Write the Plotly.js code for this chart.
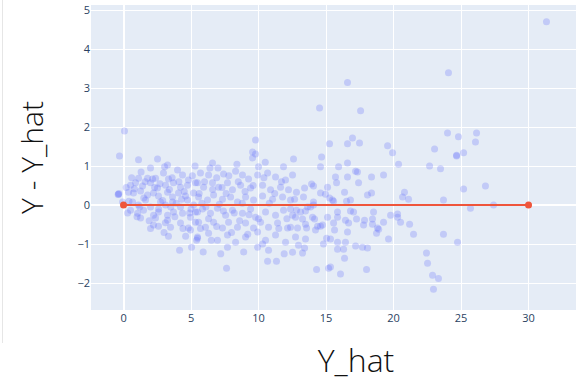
<!DOCTYPE html>
<html><head><meta charset="utf-8">
<script src="https://cdn.plot.ly/plotly-3.0.1.min.js"></script>
<style>
html,body{margin:0;padding:0;overflow:hidden;background:#fff;width:576px;height:384px;position:relative}
#edge{position:absolute;left:2px;top:0;width:1px;height:343px;background:#e6e6e6;z-index:5}
</style></head><body>
<div id="edge"></div>
<div id="chart" style="width:631px;height:384px"></div>
<script>
// Far-right / outlying points
const yhatA  = [31.33,24.07,16.59,17.56,14.52,24.0,24.81,26.15,26.07,25.19,24.67,24.67,23.04,19.56,19.93,15.26,16.59,16.96,17.48,20.37,22.67,23.48,25.19,26.81,20.81,20.67,21.11,23.7,25.7,27.41,20.3,20.52,21.19,21.48,23.7,24.74,22.44,22.52,22.89,23.33,22.96];
const residA = [4.70,3.39,3.14,2.42,2.49,1.85,1.75,1.85,1.62,1.34,1.26,1.28,1.44,1.52,1.34,1.57,1.57,1.72,1.59,1.05,1.0,0.93,0.41,0.49,0.33,0.21,0.15,0.13,-0.08,0.0,-0.23,-0.44,-0.49,-0.75,-0.75,-0.95,-1.23,-1.49,-1.8,-1.88,-2.16];
// Y_hat 15-20
const yhatB  = [15.93,16.59,17.19,17.33,16.59,15.7,15.78,17.41,18.37,19.26, 16.37,18.07,18.37,15.48,15.56,16.52,16.81,15.85,16.81,17.04, 18.52,19.78,15.85,16.44,16.67,17.26,17.85,18.44,19.26,20.3, 15.56,17.78,18.44,18.81,18.9,15.63,16.59,18.74,15.33,15.85, 16.44,19.63,17.19,17.7,18.07,15.85,16.3,16.37,18.0,16.07, 15.33];
const residB = [0.98,1.08,0.87,0.85,0.72,0.72,0.57,0.57,0.72,0.77, 0.33,0.26,0.31,0.13,0.1,0.1,0.13,-0.18,-0.15,-0.18, -0.18,-0.26,-0.31,-0.39,-0.46,-0.36,-0.39,-0.36,-0.44,-0.31, -0.46,-0.51,-0.49,-0.59,-0.62,-0.64,-0.69,-0.72,-0.87,-0.95, -0.95,-0.87,-1.05,-1.08,-1.1,-1.13,-1.13,-1.36,-1.65,-1.77, -1.59];
// Y_hat 12-15
const yhatC  = [12.59,14.67,14.59,15.11,13.41,13.93,14.07,12.81,14.59,14.96, 12.67,13.33,14.07,15.26,12.37,12.81,13.11,13.48,13.63,13.85, 14.07,12.74,13.26,14.0,14.15,15.11,12.37,12.89,13.48,13.56, 14.37,14.59,14.74,14.22,12.74,13.48,15.04,12.96,13.41,14.81, 12.52,13.26,14.3,15.19,11.85];
const residC = [1.18,1.23,0.98,0.46,0.44,0.54,0.49,0.33,0.31,0.28, 0.15,0.21,0.08,0.18,-0.1,-0.13,-0.18,-0.15,-0.05,-0.05, 0.0,-0.31,-0.36,-0.31,-0.36,-0.31,-0.57,-0.59,-0.49,-0.59, -0.54,-0.54,-0.51,-0.64,-0.82,-0.87,-0.85,-1.03,-1.1,-1.0, -1.21,-1.23,-1.65,-1.62,0.98];
// Y_hat 5-12
const yhatD  = [9.78,9.56,9.78,9.56,6.59,10.0, 5.7,6.3,7.41,8.3,8.81,9.26,9.93,10.67,11.26,12.0,12.52, 5.48,5.93,6.59,7.04,7.7,8.07,8.67,9.41,10.3,10.89,11.63,12.22, 5.56,6.22,6.67,7.33,7.93,8.44,9.04,9.63,10.3,11.04,11.78,12.37, 5.33,5.85,6.44,6.96,7.56,8.07,8.81,9.41,9.78,10.52,11.26,11.85,12.52, 5.56,6.07,6.67,7.33,7.78,8.44,9.04,9.63,10.15,10.74,11.41,12.15, 5.48,6.3,6.96,7.7,8.3,9.04,9.93,10.52,11.26,12.0,7.7, 9.93,10.74,7.63,10.67,11.33,5.41];
const residD = [1.67,1.36,1.31,1.21,1.08,0.98, 0.82,0.77,0.8,0.87,0.77,0.67,0.77,0.82,0.72,0.64,0.77, 0.57,0.46,0.57,0.46,0.57,0.39,0.51,0.44,0.51,0.39,0.46,0.39, 0.21,0.13,0.26,0.15,0.21,0.08,0.21,0.13,0.23,0.15,0.21,0.13, -0.18,-0.1,-0.21,-0.08,-0.26,-0.13,-0.21,-0.1,-0.31,-0.18,-0.26,-0.13,-0.26, -0.44,-0.57,-0.44,-0.59,-0.44,-0.57,-0.46,-0.59,-0.44,-0.57,-0.46,-0.59, -0.85,-0.72,-0.9,-0.77,-0.95,-0.82,-0.69,-0.9,-0.77,-0.95,-1.08, -1.08,-1.16,-1.62,-1.44,-1.44,-0.9];
// Y_hat 0-5
const yhatE  = [-0.3,0.07,1.11,2.52,3.26,3.04,-0.37,-0.35,-0.4,-0.07, 1.11,1.78,2.15,2.37,3.33,4.37,4.81,2.96, 0.52,0.89,1.41,2.0,2.52,3.11,3.7,4.22,4.74,5.33, 0.37,0.74,1.26,1.78,2.22,2.59,3.26,3.63,4.07,4.59,5.19, 0.67,1.11,1.63,2.0,2.74,3.11,3.63,4.22,4.74,5.19, 0.52,1.04,1.48,2.22,2.59,3.26,3.7,4.37,4.96,5.48, 1.26,2.37,2.22,3.26,3.48,2.59,4.22,4.81,5.33, 3.33,4.96,5.48,4.15,5.04];
const residE = [1.26,1.9,1.16,1.18,1.03,0.98,0.28,0.3,0.27,0.08, 0.69,0.69,0.67,0.69,0.67,0.77,0.64,0.82, 0.51,0.57,0.49,0.57,0.44,0.51,0.57,0.46,0.51,0.57, 0.33,0.31,0.36,0.26,0.31,0.23,0.33,0.21,0.31,0.23,0.31, 0.08,0.0,0.13,-0.05,0.08,0.0,0.08,-0.05,0.13,0.0, -0.13,-0.21,-0.13,-0.26,-0.18,-0.26,-0.18,-0.21,-0.31,-0.18, -0.33,-0.33,-0.51,-0.39,-0.57,-0.54,-0.46,-0.59,-0.44, -0.8,-0.64,-0.82,-1.16,-1.08];
// Dense core, extra overlapping points
const yhatF  = [0.8,1.5,2.3,2.9,3.4,3.9,4.5,5.0,5.6,6.1,6.6,7.1,7.6,8.2,8.8, 1.2,1.9,2.6,3.1,3.8,4.4,4.9,5.7,6.3,6.9,7.4,8.0,8.6,9.3, 1.6,2.7,3.6,4.1,5.1,6.0,6.9,7.8,8.5,9.6,10.4,11.2, 2.0,4.0,5.3,7.0,8.4,10.5,11.5,10.0,9.2,6.5,4.6,3.0,2.0,1.0,0.4,0.2,0.6,0.3,1.3,3.5,4.3,5.8,7.3,9.0,10.8,11.7,12.1,6.4,8.9,10.3,11.9,7.2,5.9];
const residF = [0.42,0.18,0.45,0.12,0.4,0.05,0.35,-0.1,0.3,-0.05,0.4,0.02,0.3,-0.2,0.05, -0.05,-0.4,-0.1,-0.45,-0.3,-0.6,-0.2,-0.6,-0.35,-0.55,-0.15,-0.7,-0.4,-0.25, 0.6,0.55,0.7,0.6,0.75,0.6,0.7,0.75,0.6,0.5,0.7,0.3, 0.95,0.9,1.0,0.95,1.05,1.1,-0.6,-0.35,-0.75,-0.9,-0.8,-0.7,-0.6,-0.3,0.1,0.45,0.7,-0.2,0.85,-0.05,0.15,0.05,0.45,0.35,0.05,0.6,-0.35,0.95,-1.2,-1.0,-1.25,-1.25,-1.2];
// Zero reference line
const lineX = [0, 30];
const lineY = [0, 0];

const xs = [].concat(yhatA, yhatB, yhatC, yhatD, yhatE, yhatF);
const ys = [].concat(residA, residB, residC, residD, residE, residF);

const traces = [
  {x: xs, y: ys, type: 'scatter', mode: 'markers',
   marker: {color: '#636efa', size: 7, opacity: 0.27, line: {width: 0}},
   hoverinfo: 'skip'},
  {x: lineX, y: lineY, type: 'scatter', mode: 'lines+markers',
   line: {color: '#EF553B', width: 2}, marker: {color: '#EF553B', size: 7}}
];

const axisCommon = {
  gridcolor: 'white', gridwidth: 1, zerolinecolor: 'white', zerolinewidth: 2,
  showline: false, ticks: '', tickfont: {family: 'Open Sans, sans-serif', size: 11, color: '#2a3f5f'}
};

const layout = {
  width: 631, height: 384,
  margin: {l: 91, r: 10, t: 5, b: 74},
  paper_bgcolor: 'white', plot_bgcolor: '#E5ECF6',
  showlegend: false,
  xaxis: Object.assign({}, axisCommon, {
    range: [-2.41, 36.85], tickvals: [0,5,10,15,20,25,30],
    title: {text: 'Y_hat', font: {family: 'Open Sans, sans-serif', size: 32, weight: 300, color: '#111'}, standoff: 25}
  }),
  yaxis: Object.assign({}, axisCommon, {
    range: [-2.69, 5.13], tickvals: [-2,-1,0,1,2,3,4,5],
    tickformat: 'd',
    title: {text: 'Y - Y_hat', font: {family: 'Open Sans, sans-serif', size: 30, weight: 300, color: '#111'}, standoff: 24}
  })
};

Plotly.newPlot('chart', traces, layout, {displayModeBar: false, staticPlot: true});
</script>
</body></html>
